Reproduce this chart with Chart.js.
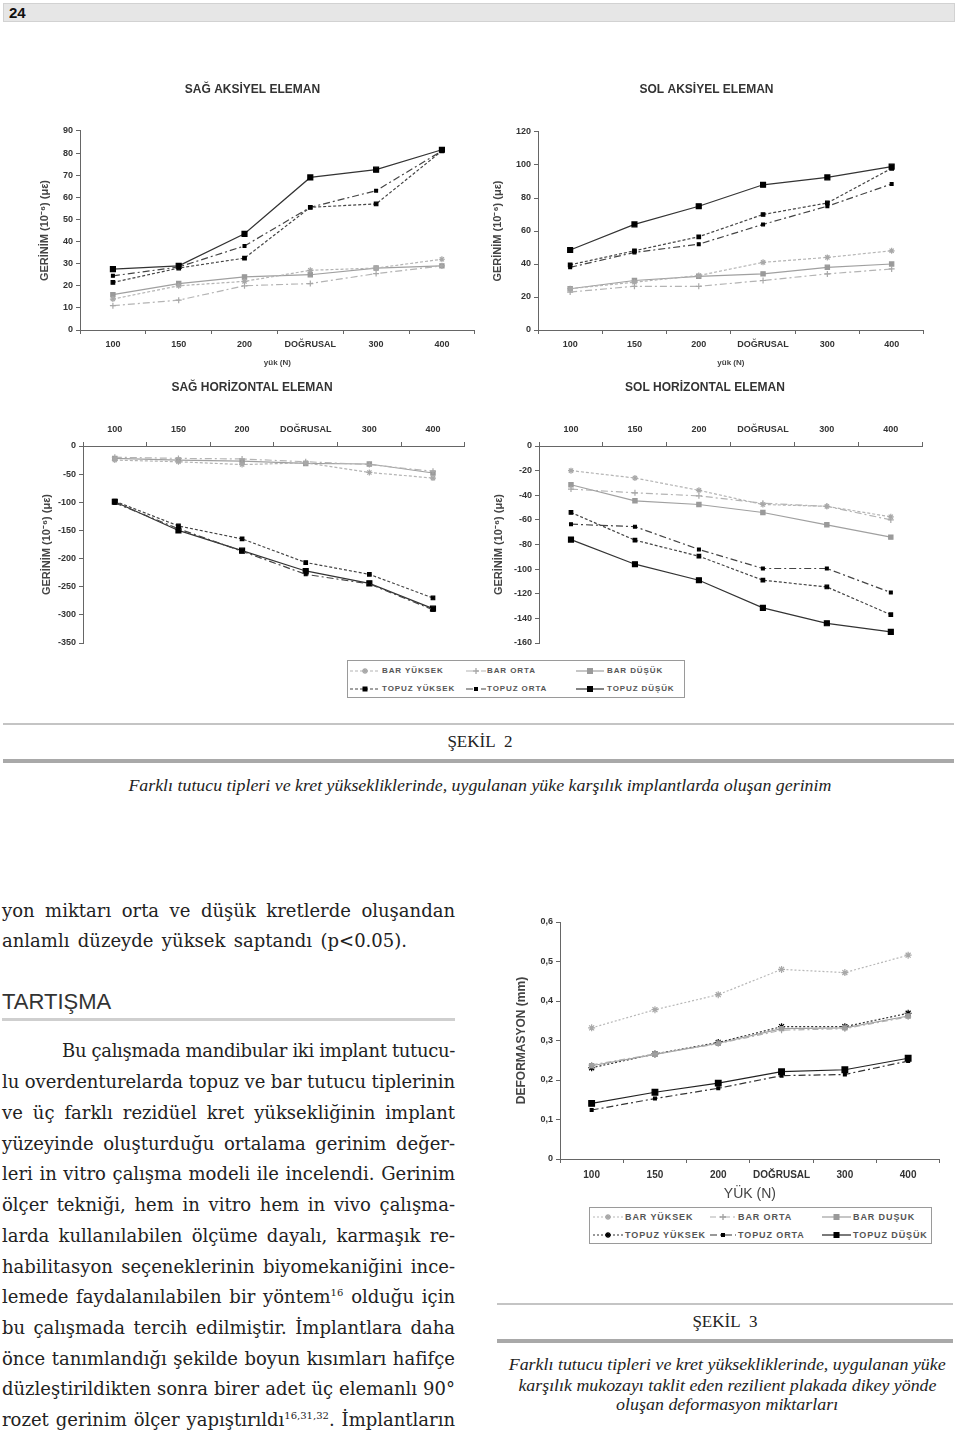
<!DOCTYPE html>
<html lang="tr">
<head>
<meta charset="UTF-8">
<title>Şekil 2 - Şekil 3</title>
<script src="https://cdn.jsdelivr.net/npm/chart.js"></script>
<style>
    body { margin: 0; width: 960px; height: 1442px; position: relative; overflow: hidden; background: #fff; color: #222; }
    .abs { position: absolute; }
    canvas { position: absolute; }
    .hdr { left: 3px; top: 3px; width: 952px; height: 19px; box-sizing: border-box; background: #e6e6e6; border: 1px solid #d2d2d2;
           font: bold 15px "Liberation Sans", sans-serif; line-height: 17px; padding-left: 5px; color: #111; }
    .rule { background: #c4c4c4; }
    .rule.thick { background: #a9a9a9; }
    .sekil { font: 17px "Liberation Serif", serif; text-align: center; line-height: 22px; color: #222; }
    .cap { font: italic 16px "Liberation Serif", serif; text-align: center; line-height: 20px; color: #222; white-space: nowrap; }
    .cap span, .ln span { display: inline-block; white-space: nowrap; }
    .ln { left: 2px; height: 30px; line-height: 30px; font: 18px "DejaVu Serif", serif; color: #222; white-space: nowrap; }
    .ln sup { font-size: 10px; line-height: 0; vertical-align: 7px; }
    .head { left: 2px; font: 22px "Liberation Sans", sans-serif; color: #333; line-height: 26px; }
    .legend { box-sizing: border-box; border: 1.5px solid #9a9a9a; background: #fff; }
    .legend span { position: absolute; font: bold 8px "Liberation Sans", sans-serif; color: #555; white-space: nowrap; line-height: 10px; }
</style>
</head>
<body>
<div class="abs hdr">24</div>

<!-- Şekil 2 : dört gerinim grafiği -->
<canvas id="sagAks" width="450" height="295" style="left:30px;top:78px"></canvas>
<canvas id="solAks" width="444" height="295" style="left:485px;top:78px"></canvas>
<canvas id="sagHor" width="436" height="277" style="left:34px;top:375px"></canvas>
<canvas id="solHor" width="446" height="277" style="left:482px;top:375px"></canvas>
<div id="legend2" class="abs legend" style="left:347px;top:660px;width:338px;height:38px"></div>

<div class="abs rule" style="left:3px;top:723px;width:951px;height:2px"></div>
<div class="abs sekil" style="left:0;top:731px;width:960px">ŞEKİL&nbsp; 2</div>
<div class="abs rule thick" style="left:3px;top:759px;width:951px;height:4px"></div>
<div class="abs cap" style="left:0;top:776px;width:960px"><span data-fit="703">Farklı tutucu tipleri ve kret yüksekliklerinde, uygulanan yüke karşılık implantlarda oluşan gerinim</span></div>

<!-- metin sütunu -->
<div class="abs ln" style="top:900px"><span data-w="453">yon miktarı orta ve düşük kretlerde oluşandan</span></div>
<div class="abs ln" style="top:930px"><span data-w="405">anlamlı düzeyde yüksek saptandı (p&lt;0.05).</span></div>
<div class="abs head" style="top:989px">TARTIŞMA</div>
<div class="abs rule" style="left:2px;top:1018px;width:453px;height:3px;background:#cfcfcf"></div>
<div class="abs ln" style="top:1040px;left:62px"><span data-w="393">Bu çalışmada mandibular iki implant tutucu-</span></div>
<div class="abs ln" style="top:1071px"><span data-w="453">lu overdenturelarda topuz ve bar tutucu tiplerinin</span></div>
<div class="abs ln" style="top:1102px"><span data-w="453">ve üç farklı rezidüel kret yüksekliğinin implant</span></div>
<div class="abs ln" style="top:1133px"><span data-w="453">yüzeyinde oluşturduğu ortalama gerinim değer-</span></div>
<div class="abs ln" style="top:1163px"><span data-w="453">leri in vitro çalışma modeli ile incelendi. Gerinim</span></div>
<div class="abs ln" style="top:1194px"><span data-w="453">ölçer tekniği, hem in vitro hem in vivo çalışma-</span></div>
<div class="abs ln" style="top:1225px"><span data-w="453">larda kullanılabilen ölçüme dayalı, karmaşık re-</span></div>
<div class="abs ln" style="top:1256px"><span data-w="453">habilitasyon seçeneklerinin biyomekaniğini ince-</span></div>
<div class="abs ln" style="top:1286px"><span data-w="453">lemede faydalanılabilen bir yöntem<sup>16</sup> olduğu için</span></div>
<div class="abs ln" style="top:1317px"><span data-w="453">bu çalışmada tercih edilmiştir. İmplantlara daha</span></div>
<div class="abs ln" style="top:1348px"><span data-w="453">önce tanımlandığı şekilde boyun kısımları hafifçe</span></div>
<div class="abs ln" style="top:1378px"><span data-w="453">düzleştirildikten sonra birer adet üç elemanlı 90°</span></div>
<div class="abs ln" style="top:1409px"><span data-w="453">rozet gerinim ölçer yapıştırıldı<sup>16,31,32</sup>. İmplantların</span></div>

<!-- Şekil 3 : deformasyon grafiği -->
<canvas id="deform" width="440" height="293" style="left:505px;top:912px"></canvas>
<div id="legend3" class="abs legend" style="left:589px;top:1207px;width:343px;height:37px"></div>

<div class="abs rule" style="left:497px;top:1303px;width:456px;height:2px"></div>
<div class="abs sekil" style="left:497px;top:1311px;width:456px">ŞEKİL&nbsp; 3</div>
<div class="abs rule thick" style="left:497px;top:1339px;width:456px;height:4px"></div>
<div class="abs cap" style="left:497px;top:1355px;width:460px"><span data-fit="437">Farklı tutucu tipleri ve kret yüksekliklerinde, uygulanan yüke</span></div>
<div class="abs cap" style="left:497px;top:1376px;width:460px"><span data-fit="418">karşılık mukozayı taklit eden rezilient plakada dikey yönde</span></div>
<div class="abs cap" style="left:497px;top:1395px;width:460px"><span data-fit="222">oluşan deformasyon miktarları</span></div>

<script>
    const categories = ['100', '150', '200', 'DOĞRUSAL', '300', '400'];
    const seriesNames = ['BAR YÜKSEK', 'BAR ORTA', 'BAR DÜŞÜK', 'TOPUZ YÜKSEK', 'TOPUZ ORTA', 'TOPUZ DÜŞÜK'];
    const fig3Names = ['BAR YÜKSEK', 'BAR ORTA', 'BAR DUŞUK', 'TOPUZ YÜKSEK', 'TOPUZ ORTA', 'TOPUZ DÜŞÜK'];

    // Sağ aksiyel eleman (10^-6 με)
    const sagAksBarYuksek   = [14, 20, 22, 27, 28, 32];
    const sagAksBarOrta     = [11, 13.5, 20, 21, 25.5, 29];
    const sagAksBarDusuk    = [16, 21, 24, 25, 28, 29];
    const sagAksTopuzYuksek = [21.5, 28, 32.5, 55.5, 57, 81];
    const sagAksTopuzOrta   = [24.5, 28.5, 38, 55.5, 63, 81];
    const sagAksTopuzDusuk  = [27.5, 29, 43.5, 69, 72.5, 81.5];

    // Sol aksiyel eleman
    const solAksBarYuksek   = [25, 29, 33, 41, 44, 48];
    const solAksBarOrta     = [23, 26.5, 26.5, 30, 34, 37];
    const solAksBarDusuk    = [25, 30, 32.5, 34, 38, 40];
    const solAksTopuzYuksek = [39.5, 48, 56.5, 70, 77, 98];
    const solAksTopuzOrta   = [38, 47, 52, 64, 75, 88.5];
    const solAksTopuzDusuk  = [48.5, 64, 75, 88, 92.5, 99];

    // Sağ horizontal eleman
    const sagHorBarYuksek   = [-25, -28, -33, -30, -47, -57];
    const sagHorBarOrta     = [-20, -22, -23, -28, -33, -45];
    const sagHorBarDusuk    = [-22, -25, -27, -31, -32, -48];
    const sagHorTopuzYuksek = [-98, -142, -165, -207, -228, -270];
    const sagHorTopuzOrta   = [-101, -147, -187, -228, -245, -291];
    const sagHorTopuzDusuk  = [-99, -150, -186, -222, -244, -289];

    // Sol horizontal eleman
    const solHorBarYuksek   = [-20, -26, -36, -47.5, -49, -57.5];
    const solHorBarOrta     = [-35, -38, -40.5, -46.5, -49, -60];
    const solHorBarDusuk    = [-31.5, -44.5, -47.5, -54, -64, -74];
    const solHorTopuzYuksek = [-54, -76.5, -89.5, -109, -114.5, -137];
    const solHorTopuzOrta   = [-63.5, -65.5, -84, -99.5, -99.5, -119];
    const solHorTopuzDusuk  = [-76, -96, -109, -131.5, -144, -151];

    // Deformasyon (mm)
    const defBarYuksek   = [0.332, 0.378, 0.416, 0.480, 0.472, 0.516];
    const defBarOrta     = [0.238, 0.266, 0.292, 0.326, 0.330, 0.360];
    const defBarDusuk    = [0.236, 0.265, 0.293, 0.330, 0.332, 0.362];
    const defTopuzYuksek = [0.231, 0.266, 0.295, 0.335, 0.335, 0.369];
    const defTopuzOrta   = [0.124, 0.153, 0.179, 0.211, 0.214, 0.248];
    const defTopuzDusuk  = [0.141, 0.169, 0.192, 0.221, 0.226, 0.255];

    const fig2Styles = [
        { line: '#b4b4b4', mark: '#a8a8a8', dash: [3, 2], point: 'star', radius: 3 },
        { line: '#b4b4b4', mark: '#a8a8a8', dash: [7, 3, 2, 3], point: 'cross', radius: 3 },
        { line: '#a0a0a0', mark: '#9a9a9a', dash: [], point: 'rect', radius: 3 },
        { line: '#444', mark: '#000', dash: [3, 2], point: 'rect', radius: 2.5 },
        { line: '#444', mark: '#000', dash: [7, 3, 2, 3], point: 'rect', radius: 2 },
        { line: '#333', mark: '#000', dash: [], point: 'rect', radius: 3.5 }
    ];
    const fig3Styles = [
        { line: '#b8b8b8', mark: '#a8a8a8', dash: [2, 2], point: 'star', radius: 3.5 },
        { line: '#b0b0b0', mark: '#a0a0a0', dash: [6, 3, 2, 3], point: 'cross', radius: 3 },
        { line: '#a0a0a0', mark: '#9a9a9a', dash: [], point: 'rect', radius: 3 },
        { line: '#333', mark: '#000', dash: [2, 2], point: 'star', radius: 3.5 },
        { line: '#333', mark: '#000', dash: [7, 3, 2, 3], point: 'rect', radius: 2 },
        { line: '#222', mark: '#000', dash: [], point: 'rect', radius: 4 }
    ];

    Chart.defaults.font.family = '"Liberation Sans", Arial, sans-serif';

    const tickFont = { size: 9, weight: 'bold' };
    const axisGrey = '#666';

    function lineChart(id, o) {
        return new Chart(document.getElementById(id), {
            type: 'line',
            data: {
                labels: categories,
                datasets: o.series.map((data, i) => ({
                    label: seriesNames[i],
                    data: data,
                    borderColor: o.styles[i].line,
                    borderWidth: 1.2,
                    borderDash: o.styles[i].dash,
                    pointStyle: o.styles[i].point,
                    pointRadius: o.styles[i].radius,
                    pointBorderColor: o.styles[i].mark,
                    pointBackgroundColor: o.styles[i].mark,
                    pointBorderWidth: 1.2,
                    tension: 0,
                    fill: false
                }))
            },
            options: {
                responsive: false,
                animation: false,
                layout: { padding: o.pad },
                plugins: {
                    legend: { display: false },
                    tooltip: { enabled: false },
                    title: o.title
                        ? { display: true, text: o.title, color: '#333', font: { size: 12, weight: 'bold' }, padding: o.titlePad }
                        : { display: false }
                },
                scales: {
                    x: {
                        position: o.xPos || 'bottom',
                        offset: true,
                        grid: { offset: true, drawOnChartArea: false, tickLength: 4, color: axisGrey },
                        border: { color: axisGrey, width: 1 },
                        ticks: { color: '#333', font: o.xFont || tickFont, padding: o.xTickPad, autoSkip: false, maxRotation: 0 },
                        title: o.xTitle
                            ? { display: true, text: o.xTitle, color: '#444', font: o.xTitleFont, padding: { top: 0, bottom: o.xTitlePad } }
                            : { display: false },
                        afterFit: s => { s.height = o.xH; }
                    },
                    y: {
                        min: o.min, max: o.max,
                        grid: { drawOnChartArea: false, tickLength: 4, color: axisGrey },
                        border: { color: axisGrey, width: 1 },
                        ticks: { stepSize: o.step, color: '#333', font: o.yFont || tickFont, padding: 3, callback: o.yFmt },
                        title: { display: true, text: o.yTitle, color: '#444', font: o.yTitleFont, padding: { top: o.yTitlePad, bottom: 0 } },
                        afterFit: s => { s.width = o.yW; }
                    }
                }
            }
        });
    }

    const gerinimTitle = 'GERİNİM (10⁻⁶) (με)';
    const gerinimFont = { size: 11, weight: 'bold' };

    lineChart('sagAks', {
        title: 'SAĞ AKSİYEL ELEMAN', titlePad: { top: 4.8, bottom: 33.8 },
        series: [sagAksBarYuksek, sagAksBarOrta, sagAksBarDusuk, sagAksTopuzYuksek, sagAksTopuzOrta, sagAksTopuzDusuk],
        styles: fig2Styles, min: 0, max: 90, step: 10,
        pad: { left: 0, right: 5, top: 0, bottom: 0 },
        yW: 50, xH: 43, xTickPad: 5.6,
        xTitle: 'yük (N)', xTitleFont: { size: 8, weight: 'bold' }, xTitlePad: 5,
        yTitle: gerinimTitle, yTitleFont: gerinimFont, yTitlePad: 8.4
    });

    lineChart('solAks', {
        title: 'SOL AKSİYEL ELEMAN', titlePad: { top: 4.8, bottom: 34.8 },
        series: [solAksBarYuksek, solAksBarOrta, solAksBarDusuk, solAksTopuzYuksek, solAksTopuzOrta, solAksTopuzDusuk],
        styles: fig2Styles, min: 0, max: 120, step: 20,
        pad: { left: 0, right: 1, top: 0, bottom: 0 },
        yW: 53, xH: 43, xTickPad: 5.6,
        xTitle: 'yük (N)', xTitleFont: { size: 8, weight: 'bold' }, xTitlePad: 5,
        yTitle: gerinimTitle, yTitleFont: gerinimFont, yTitlePad: 6.4
    });

    lineChart('sagHor', {
        title: 'SAĞ HORİZONTAL ELEMAN', titlePad: { top: 5.8, bottom: 10 },
        series: [sagHorBarYuksek, sagHorBarOrta, sagHorBarDusuk, sagHorTopuzYuksek, sagHorTopuzOrta, sagHorTopuzDusuk],
        styles: fig2Styles, min: -350, max: 0, step: 50,
        pad: { left: 0, right: 0, top: 0, bottom: 9 },
        xPos: 'top', yW: 49, xH: 40.8, xTickPad: 6.6,
        yTitle: gerinimTitle, yTitleFont: gerinimFont, yTitlePad: 6.4
    });

    lineChart('solHor', {
        title: 'SOL HORİZONTAL ELEMAN', titlePad: { top: 5.8, bottom: 10 },
        series: [solHorBarYuksek, solHorBarOrta, solHorBarDusuk, solHorTopuzYuksek, solHorTopuzOrta, solHorTopuzDusuk],
        styles: fig2Styles, min: -160, max: 0, step: 20,
        pad: { left: 0, right: 0, top: 0, bottom: 9 },
        xPos: 'top', yW: 57, xH: 40.8, xTickPad: 6.6,
        yTitle: gerinimTitle, yTitleFont: gerinimFont, yTitlePad: 10.4
    });

    lineChart('deform', {
        series: [defBarYuksek, defBarOrta, defBarDusuk, defTopuzYuksek, defTopuzOrta, defTopuzDusuk],
        styles: fig3Styles, min: 0, max: 0.6, step: 0.1,
        pad: { left: 0, right: 5, top: 10, bottom: 0 },
        yW: 55, xH: 46, xTickPad: 6,
        xFont: { size: 10, weight: 'bold' }, yFont: { size: 9, weight: 'bold' },
        yFmt: v => v === 0 ? '0' : v.toFixed(1).replace('.', ','),
        xTitle: 'YÜK (N)', xTitleFont: { size: 14 }, xTitlePad: 2.6,
        yTitle: 'DEFORMASYON (mm)', yTitleFont: { size: 12, weight: 'bold' }, yTitlePad: 9.8
    });

    // legend boxes (HTML, drawn from the same series styles)
    function markerSvg(s, cx, cy) {
        const r = Math.min(s.radius, 3);
        if (s.point === 'rect') return `<rect x="${cx - r}" y="${cy - r}" width="${2 * r}" height="${2 * r}" fill="${s.mark}"/>`;
        const plus = `M${cx - r} ${cy}H${cx + r}M${cx} ${cy - r}V${cy + r}`;
        const d = r * 0.7;
        const x = `M${cx - d} ${cy - d}L${cx + d} ${cy + d}M${cx - d} ${cy + d}L${cx + d} ${cy - d}`;
        return `<path d="${s.point === 'star' ? plus + x : plus}" stroke="${s.mark}" stroke-width="1.3" fill="none"/>`;
    }

    function buildLegend(boxId, names, styles, cols, rows, fontSize, spacing) {
        const box = document.getElementById(boxId);
        names.forEach((name, i) => {
            const s = styles[i];
            const [sx, sw, tx] = cols[i % 3];
            const cy = rows[Math.floor(i / 3)];
            box.insertAdjacentHTML('beforeend',
                `<svg class="abs" style="left:${sx}px;top:${cy - 5}px" width="${sw}" height="10">` +
                `<line x1="0" y1="5" x2="${sw}" y2="5" stroke="${s.line}" stroke-width="1.2" stroke-dasharray="${s.dash.join(' ')}"/>` +
                markerSvg(s, sw / 2, 5) + `</svg>` +
                `<span style="left:${tx}px;top:${cy - 5}px;font-size:${fontSize}px;letter-spacing:${spacing}px">${name}</span>`);
        });
    }

    buildLegend('legend2', seriesNames, fig2Styles, [[2, 30, 34], [118, 20, 139], [228, 28, 259]], [10, 28], 8, 0.9);
    buildLegend('legend3', fig3Names, fig3Styles, [[3, 30, 35], [120, 26, 148], [232, 29, 263]], [9, 27], 9, 0.9);

    // justify the body lines and fit captions to the scanned widths
    function fitText() {
        document.querySelectorAll('.ln span').forEach(sp => {
            sp.style.wordSpacing = '0px';
            sp.style.letterSpacing = '0px';
            const target = +sp.dataset.w;
            const w = sp.getBoundingClientRect().width;
            const spaces = (sp.textContent.match(/ /g) || []).length;
            if (w <= target) {
                sp.style.wordSpacing = ((target - w) / spaces) + 'px';
            } else {
                sp.style.letterSpacing = ((target - w) / sp.textContent.length) + 'px';
            }
        });
        document.querySelectorAll('.cap span').forEach(sp => {
            sp.style.transform = 'none';
            const w = sp.getBoundingClientRect().width;
            sp.style.transform = `scaleX(${(+sp.dataset.fit / w).toFixed(4)})`;
        });
    }
    fitText();
    if (document.fonts) document.fonts.ready.then(fitText);
</script>
</body>
</html>
